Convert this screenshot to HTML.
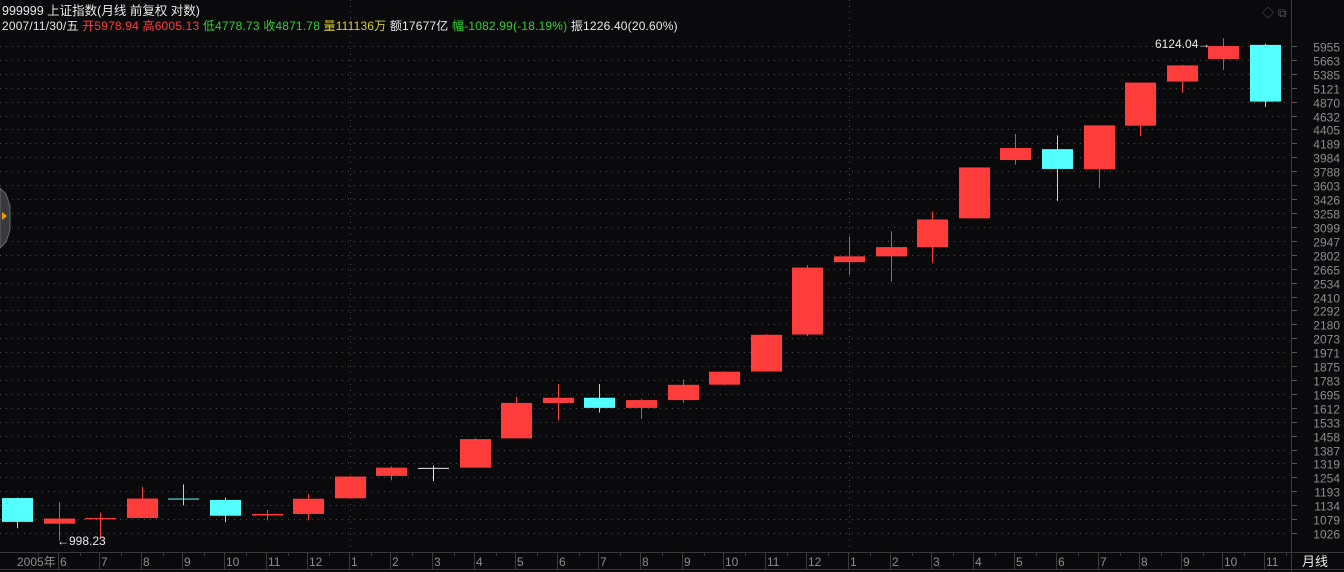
<!DOCTYPE html>
<html><head><meta charset="utf-8"><style>
html,body{margin:0;padding:0;background:#0a0a0c;}
svg{display:block;}
text{font-family:"Liberation Sans","Noto Sans CJK SC",sans-serif;}
</style></head><body>
<svg id="chart" width="1344" height="572" xmlns="http://www.w3.org/2000/svg">
<rect x="0" y="0" width="1344" height="572" fill="#0a0a0c"/>
<g id="grid"></g>
<g id="candles"></g>
<g id="yaxis"></g>
<g id="xaxis"></g>
<line x1="1291.5" y1="0" x2="1291.5" y2="572" stroke="#3a3a3a"/>
<line x1="0" y1="552.5" x2="1344" y2="552.5" stroke="#3a3a3a"/>
<line x1="0" y1="569.5" x2="1344" y2="569.5" stroke="#3a3a3a"/>
<text x="2" y="15" font-size="12.5" fill="#e8e8e8">999999 上证指数(月线 前复权 对数)</text>
<text x="2" y="30" font-size="12" letter-spacing="0.18" fill="#e8e8e8">2007/11/30/五 <tspan fill="#ff3c3c">开5978.94 高6005.13</tspan> <tspan fill="#2fd02f">低4778.73 收4871.78</tspan> <tspan fill="#d8d020">量111136万</tspan> 额17677亿 <tspan fill="#2fd02f">幅-1082.99(-18.19%)</tspan> 振1226.40(20.60%)</text>
<text x="1262" y="17" font-size="12" fill="#555">◇</text>
<text x="1278" y="17" font-size="12" fill="#555">⧉</text>
<text x="1302" y="566" font-size="13" fill="#e8e8e8">月线</text>
<g><path d="M0,188 L6,194 L10,206 L10,230 L6,242 L0,248 Z" fill="#3a3a3e" stroke="#666"/><path d="M2,212 L7,216 L2,220 Z" fill="#e8a000"/></g>
<text x="57" y="545" font-size="12" fill="#e8e8e8">←998.23</text>
<text x="1155" y="48" font-size="12" fill="#e8e8e8">6124.04→</text>
</svg>
<script>
const months=["2005年","6","7","8","9","10","11","12","1","2","3","4","5","6","7","8","9","10","11","12","1","2","3","4","5","6","7","8","9","10","11"];
const opens=[1164,1061,1078,1083,1162,1156,1093,1099,1163,1261,1298,1299,1444,1641,1672,1612,1658,1753,1838,2101,2728,2786,2881,3196,3945,4103,3815,4466,5237,5683,5979];
const highs=[1166,1146,1105,1212,1223,1166,1115,1180,1260,1305,1308,1445,1678,1757,1757,1665,1785,1839,2104,2698,2994,3049,3275,3842,4335,4312,4468,5218,5562,6124,6005];
const lows=[1044,998.23,1004,1083,1133,1067,1074,1074,1163,1241,1238,1299,1444,1541,1585,1548,1641,1750,1838,2089,2605,2541,2723,3196,3880,3404,3563,4300,5033,5462,4779];
const closes=[1068,1081,1083,1162,1160,1092,1099,1161,1258,1299,1298,1440,1641,1672,1612,1658,1752,1837,2099,2675,2786,2881,3183,3841,4120,3820,4471,5218,5552,5954,4872];
const yTicks=[5955,5663,5385,5121,4870,4632,4405,4189,3984,3788,3603,3426,3258,3099,2947,2802,2665,2534,2410,2292,2180,2073,1971,1875,1783,1695,1612,1533,1458,1387,1319,1254,1193,1134,1079,1026];
const NS="http://www.w3.org/2000/svg";
function yS(v){return 533-Math.log(v/1026)/0.003611;}
function xS(i){return 17+i*41.6;}
function mk(t,a,p){const e=document.createElementNS(NS,t);for(const k in a)e.setAttribute(k,a[k]);p.appendChild(e);return e;}
const grid=document.getElementById('grid'),cg=document.getElementById('candles'),ya=document.getElementById('yaxis'),xa=document.getElementById('xaxis');
yTicks.forEach(v=>{const y=Math.round(yS(v))+0.5;
 const l=mk('line',{x1:0,y1:y,x2:1290,y2:y,stroke:'#4a4a4a','stroke-dasharray':'1,5'},grid);
 
 
 mk('line',{x1:1292,y1:y,x2:1297,y2:y,stroke:'#555'},ya);
 const t=mk('text',{x:1340,y:y+5,'font-size':'12','text-anchor':'end',fill:'#8c8c8c'},ya);t.textContent=v;
 
 
});
months.forEach((m,i)=>{const x=Math.round(xS(i));
 if(m==="1"){const vl=mk('line',{x1:x+0.5,y1:0,x2:x+0.5,y2:552,stroke:'#4a4a4a','stroke-dasharray':'1,5'},grid);
  
  }
 if(i>0)mk('line',{x1:x-0.5,y1:553,x2:x-0.5,y2:569,stroke:'#3a3a3a'},xa);
 mk('line',{x1:x+21.5,y1:553,x2:x+21.5,y2:556,stroke:'#3a3a3a'},xa);
 const t=mk('text',{x:i==0?x:x+1,y:566,'font-size':'12',fill:'#8c8c8c'},xa);t.textContent=m;
 
 
});
opens.forEach((o,i)=>{const c=closes[i],x=Math.round(xS(i));
 const col=c>o?'#ff3c3c':(c<o?'#54ffff':'#e8e8e8');
 const g=mk('g',{},cg);
 
 
 mk('rect',{x:x,y:yS(highs[i]),width:1,height:Math.max(1,yS(lows[i])-yS(highs[i])),fill:col},g);
 const top=yS(Math.max(o,c)),bot=yS(Math.min(o,c));
 mk('rect',{x:x-15,y:top,width:31,height:Math.max(1,bot-top),fill:col},g);
});
</script>
</body></html>
